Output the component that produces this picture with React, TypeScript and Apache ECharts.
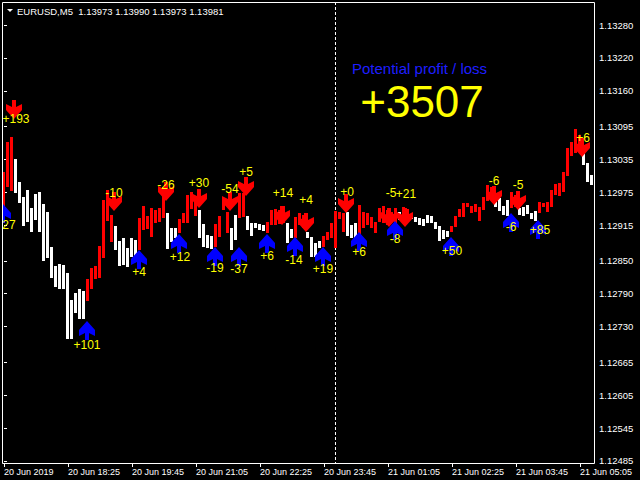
import React, { useEffect, useRef } from 'react';
import * as echarts from 'echarts';

// ---------- data ----------
const symbolName = 'EURUSD,M5';
const lastQuote = [1.13973, 1.1399, 1.13973, 1.13981];
const totalProfit = 3507;
const profitCaption = 'Potential profit / loss';

// Heiken-Ashi style body per 5-min bar (bar 0 = 20 Jun 17:05)
const haOpen = [
  1.12948, 1.12984, 1.12977, 1.13036, 1.12993, 1.12966, 1.12979, 1.12946, 1.12972, 1.12975,
  1.12954, 1.12939, 1.12875, 1.12841, 1.12845, 1.12843, 1.12828, 1.12779, 1.12792, 1.12799,
  1.12795, 1.12777, 1.12799, 1.12817, 1.12818, 1.12855, 1.12922, 1.12884, 1.12913, 1.12886,
  1.12891, 1.12873, 1.12891, 1.12888, 1.1287, 1.12906, 1.12908, 1.12893, 1.12919, 1.1292,
  1.12928, 1.12938, 1.12909, 1.12909, 1.12901, 1.12919, 1.12919, 1.12945, 1.12932, 1.12943,
  1.12917, 1.12897, 1.12895, 1.12875, 1.12893, 1.12943, 1.12901, 1.12909, 1.12934, 1.12928,
  1.1293, 1.12932, 1.12919, 1.12919, 1.12917, 1.12915, 1.12901, 1.12915, 1.12915, 1.12917,
  1.12919, 1.12919, 1.12908, 1.12891, 1.12915, 1.12909, 1.12902, 1.12893, 1.12883, 1.12886,
  1.12875, 1.12888, 1.12891, 1.12873, 1.12927, 1.12902, 1.12939, 1.12915, 1.12919, 1.12893,
  1.12909, 1.12915, 1.12909, 1.12901, 1.1292, 1.12919, 1.12915, 1.1292, 1.12915, 1.12939,
  1.1292, 1.12922, 1.12934, 1.1293, 1.12928, 1.12927, 1.12934, 1.12932, 1.1292, 1.12913,
  1.12906, 1.12904, 1.12902, 1.12911, 1.1293, 1.1293, 1.12948, 1.12938, 1.12939, 1.12922,
  1.12943, 1.12959, 1.12961, 1.12961, 1.12964, 1.1295, 1.12961, 1.12946, 1.12948, 1.12946,
  1.12948, 1.12952, 1.12938, 1.12941, 1.12938, 1.12948, 1.12939, 1.12948, 1.1297, 1.12968,
  1.12975, 1.13005, 1.13041, 1.13047, 1.13061, 1.13047, 1.13029, 1.13007,
];
const haClose = [
  1.13012, 1.13066, 1.13076, 1.12974, 1.12956, 1.12913, 1.1292, 1.12902, 1.12924, 1.12902,
  1.1285, 1.12855, 1.12818, 1.12802, 1.12799, 1.12799, 1.12708, 1.12708, 1.12755, 1.12744,
  1.12744, 1.12817, 1.12837, 1.12841, 1.12877, 1.12961, 1.12979, 1.12934, 1.1287, 1.12841,
  1.12843, 1.12839, 1.12857, 1.12847, 1.12928, 1.1295, 1.12932, 1.12946, 1.12943, 1.12946,
  1.12984, 1.12872, 1.12884, 1.12891, 1.12927, 1.12938, 1.1297, 1.12975, 1.12966, 1.12891,
  1.12875, 1.12873, 1.12872, 1.12917, 1.12932, 1.12964, 1.12939, 1.1287, 1.12888, 1.12974,
  1.12974, 1.12906, 1.12895, 1.12909, 1.12906, 1.12904, 1.1292, 1.12943, 1.12945, 1.12943,
  1.1295, 1.12883, 1.12891, 1.1293, 1.12938, 1.12934, 1.12891, 1.12857, 1.12857, 1.12873,
  1.12895, 1.12902, 1.12919, 1.12941, 1.12939, 1.12938, 1.12895, 1.12891, 1.12891, 1.12952,
  1.12939, 1.12938, 1.1293, 1.1292, 1.12946, 1.1295, 1.12943, 1.12939, 1.12946, 1.12924,
  1.12948, 1.12945, 1.12927, 1.1292, 1.12915, 1.12913, 1.12919, 1.12919, 1.12908, 1.12886,
  1.1289, 1.12893, 1.12913, 1.12932, 1.12945, 1.12956, 1.12956, 1.1295, 1.12954, 1.12948,
  1.12966, 1.12988, 1.12984, 1.12948, 1.12941, 1.12934, 1.12932, 1.12975, 1.1297, 1.12934,
  1.12932, 1.12936, 1.12927, 1.12922, 1.12957, 1.12956, 1.12957, 1.12979, 1.1299, 1.12992,
  1.13012, 1.13055, 1.13066, 1.13091, 1.1308, 1.13025, 1.12993, 1.12988,
];

const xTickIndex = [0, 16, 32, 48, 64, 80, 96, 112, 128, 144];
const xTickLabels = [
  '20 Jun 2019', '20 Jun 18:25', '20 Jun 19:45', '20 Jun 21:05', '20 Jun 22:25',
  '20 Jun 23:45', '21 Jun 01:05', '21 Jun 02:25', '21 Jun 03:45', '21 Jun 05:05',
];
const yTickValues = [
  1.12485, 1.12545, 1.12605, 1.12665, 1.1273, 1.1279, 1.1285,
  1.12915, 1.12975, 1.13035, 1.13095, 1.1316, 1.1322, 1.1328,
];
const yMin = 1.1248135;
const yMax = 1.1332194;
const dayBreakIndex = 83;

// sell signals (red down arrows)
const sellIdx = [2.5, 27.6, 40.5, 48.75, 56.5, 60.5, 69.5, 75.5, 85.5, 96.25, 100.25, 122.5, 128.5, 144.5];
const sellPrice = [1.13127, 1.12959, 1.12977, 1.12965, 1.12959, 1.12986, 1.12934, 1.12921, 1.12955, 1.1293, 1.1293, 1.1297, 1.12961, 1.13058];
const sellLabels = ['+193', '-10', '-26', '+30', '-54', '+5', '+14', '+4', '+0', '-5', '+21', '-6', '-5', '+6'];
const sellLabelIdx = [2.9, 27.5, 40.5, 48.75, 56.5, 60.5, 69.75, 75.5, 85.75, 96.75, 100.5, 122.5, 128.5, 144.75];
const sellLabelPrice = [1.13109, 1.12974, 1.12988, 1.12992, 1.12981, 1.13012, 1.12974, 1.12961, 1.12975, 1.12974, 1.12972, 1.12996, 1.12988, 1.13074];

// buy signals (blue up arrows)
const buyIdx = [-0.25, 20.75, 33.75, 43.75, 52.75, 58.75, 65.75, 72.75, 79.75, 88.75, 97.75, 111.75, 126.75, 133.5];
const buyPrice = [1.12935, 1.12722, 1.12851, 1.12881, 1.12857, 1.12857, 1.12881, 1.12875, 1.12857, 1.12884, 1.12904, 1.12875, 1.12919, 1.12906];
const buyLabels = ['27', '+101', '+4', '+12', '-19', '-37', '+6', '-14', '+19', '+6', '-8', '+50', '-6', '+85'];
const buyLabelIdx = [1.25, 20.75, 33.75, 44, 52.75, 58.75, 65.75, 72.5, 79.75, 88.75, 97.75, 112, 126.75, 134];
const buyLabelPrice = [1.12915, 1.12697, 1.1283, 1.12857, 1.12837, 1.12835, 1.12859, 1.12851, 1.12835, 1.12866, 1.1289, 1.12868, 1.12912, 1.12906];

// ---------- styles ----------
const FONT = '"Liberation Sans", Arial, sans-serif';
const downArrow = [[-2, -9], [2, -9], [2, -2], [8, -5], [8, 1], [0, 10], [-8, 1], [-8, -5], [-2, -2]];
const upArrow = [[0, -10], [8, -1], [8, 5], [2, 2], [2, 9], [-2, 9], [-2, 2], [-8, 5], [-8, -1]];

function arrowSeries(idx: number[], price: number[], shape: number[][], color: string, z: number) {
  return {
    type: 'custom',
    clip: true,
    silent: true,
    z,
    encode: { x: 0, y: 1 },
    data: idx.map((v, k) => [v, price[k]]),
    renderItem: (params: any, api: any) => {
      const p = api.coord([api.value(0), api.value(1)]);
      const cx = Math.round(p[0]);
      const cy = Math.round(p[1]);
      return {
        type: 'polygon',
        shape: { points: shape.map(([dx, dy]) => [cx + dx, cy + dy]) },
        style: { fill: color },
      };
    },
  };
}

function labelSeries(idx: number[], price: number[], labels: string[], z: number) {
  return {
    type: 'custom',
    clip: true,
    silent: true,
    z,
    encode: { x: 0, y: 1 },
    data: idx.map((v, k) => [v, price[k]]),
    renderItem: (params: any, api: any) => {
      const p = api.coord([api.value(0), api.value(1)]);
      return {
        type: 'text',
        x: Math.round(p[0]),
        y: Math.round(p[1]),
        style: {
          text: labels[params.dataIndex],
          fill: '#ffff00',
          font: `12px ${FONT}`,
          textAlign: 'center',
          textVerticalAlign: 'middle',
          align: 'center',
          verticalAlign: 'middle',
        },
      };
    },
  };
}

export default function App() {
  const ref = useRef<HTMLDivElement>(null);

  useEffect(() => {
    document.body.style.margin = '0';
    document.body.style.background = '#000';
    if (!ref.current) return;
    const chart = echarts.init(ref.current, undefined, { renderer: 'svg' });

    const barData = haOpen.map((o, i) => [i, o, haClose[i]]);

    chart.setOption({
      animation: false,
      backgroundColor: '#000000',
      grid: { left: 2, top: 2, width: 592, height: 461, show: false },
      xAxis: {
        type: 'value',
        min: -0.5,
        max: 147.5,
        axisLine: { show: false },
        splitLine: { show: false },
        axisTick: {
          show: true,
          length: 4,
          customValues: xTickIndex,
          lineStyle: { color: '#ffffff', width: 1 },
        },
        axisLabel: {
          customValues: xTickIndex,
          color: '#ffffff',
          fontSize: 9,
          fontFamily: FONT,
          align: 'left',
          margin: 4,
          formatter: (v: number) => {
            const k = xTickIndex.indexOf(Math.round(v));
            return k >= 0 ? xTickLabels[k] : '';
          },
        },
      },
      yAxis: {
        type: 'value',
        position: 'right',
        min: yMin,
        max: yMax,
        scale: true,
        axisLine: { show: false },
        splitLine: { show: false },
        axisTick: {
          show: true,
          length: 3,
          customValues: yTickValues,
          lineStyle: { color: '#ffffff', width: 1 },
        },
        axisLabel: {
          customValues: yTickValues,
          color: '#ffffff',
          fontSize: 9.5,
          fontFamily: FONT,
          margin: 5,
          formatter: (v: number) => v.toFixed(5),
        },
      },
      graphic: [
        {
          type: 'rect',
          silent: true,
          shape: { x: 2.5, y: 2.5, width: 592, height: 461 },
          style: { fill: 'none', stroke: '#ffffff', lineWidth: 1 },
          z: 100,
        },
        {
          type: 'polygon',
          silent: true,
          shape: { points: [[7, 9], [13, 9], [10, 12]] },
          style: { fill: '#ffffff' },
        },
        {
          type: 'text',
          silent: true,
          x: 17,
          y: 11,
          style: {
            text: `${symbolName}  ${lastQuote.map((q) => q.toFixed(5)).join(' ')}`,
            fill: '#ffffff',
            font: `9.5px ${FONT}`,
            textVerticalAlign: 'middle',
            verticalAlign: 'middle',
          },
        },
        {
          type: 'text',
          silent: true,
          x: 352,
          y: 68,
          style: {
            text: profitCaption,
            fill: '#1e1eff',
            font: `15px ${FONT}`,
            textVerticalAlign: 'middle',
            verticalAlign: 'middle',
          },
        },
        {
          type: 'text',
          silent: true,
          x: 422,
          y: 101,
          style: {
            text: (totalProfit >= 0 ? '+' : '') + totalProfit,
            fill: '#ffff00',
            font: `44px ${FONT}`,
            textAlign: 'center',
            align: 'center',
            textVerticalAlign: 'middle',
            verticalAlign: 'middle',
          },
        },
      ],
      series: [
        {
          type: 'custom',
          clip: true,
          silent: true,
          z: 1,
          encode: { x: 0, y: 1 },
          data: [[dayBreakIndex, yMin]],
          renderItem: (params: any, api: any) => {
            const p = api.coord([api.value(0), api.value(1)]);
            const cs = params.coordSys;
            const x = Math.floor(p[0]) - 0.5;
            return {
              type: 'line',
              shape: { x1: x, y1: cs.y, x2: x, y2: cs.y + cs.height },
              style: { stroke: '#ffffff', lineWidth: 1, lineDash: [3, 2] },
            };
          },
        },
        {
          type: 'custom',
          clip: true,
          silent: true,
          z: 2,
          encode: { x: 0, y: [1, 2] },
          data: barData,
          renderItem: (params: any, api: any) => {
            const i = api.value(0);
            const o = api.value(1);
            const c = api.value(2);
            const top = api.coord([i, Math.max(o, c)]);
            const bot = api.coord([i, Math.min(o, c)]);
            const x = Math.round(top[0]) - 2;
            const y = Math.round(top[1]);
            const h = Math.max(1, Math.round(bot[1]) - y);
            return {
              type: 'rect',
              shape: { x, y, width: 3, height: h },
              style: { fill: c > o ? '#ff0000' : '#ffffff' },
            };
          },
        },
        arrowSeries(sellIdx, sellPrice, downArrow, '#ff0000', 3),
        arrowSeries(buyIdx, buyPrice, upArrow, '#0000ff', 4),
        labelSeries(sellLabelIdx, sellLabelPrice, sellLabels, 5),
        labelSeries(buyLabelIdx, buyLabelPrice, buyLabels, 6),
      ],
    });

    return () => chart.dispose();
  }, []);

  return <div ref={ref} style={{ width: 640, height: 480, background: '#000' }} />;
}
